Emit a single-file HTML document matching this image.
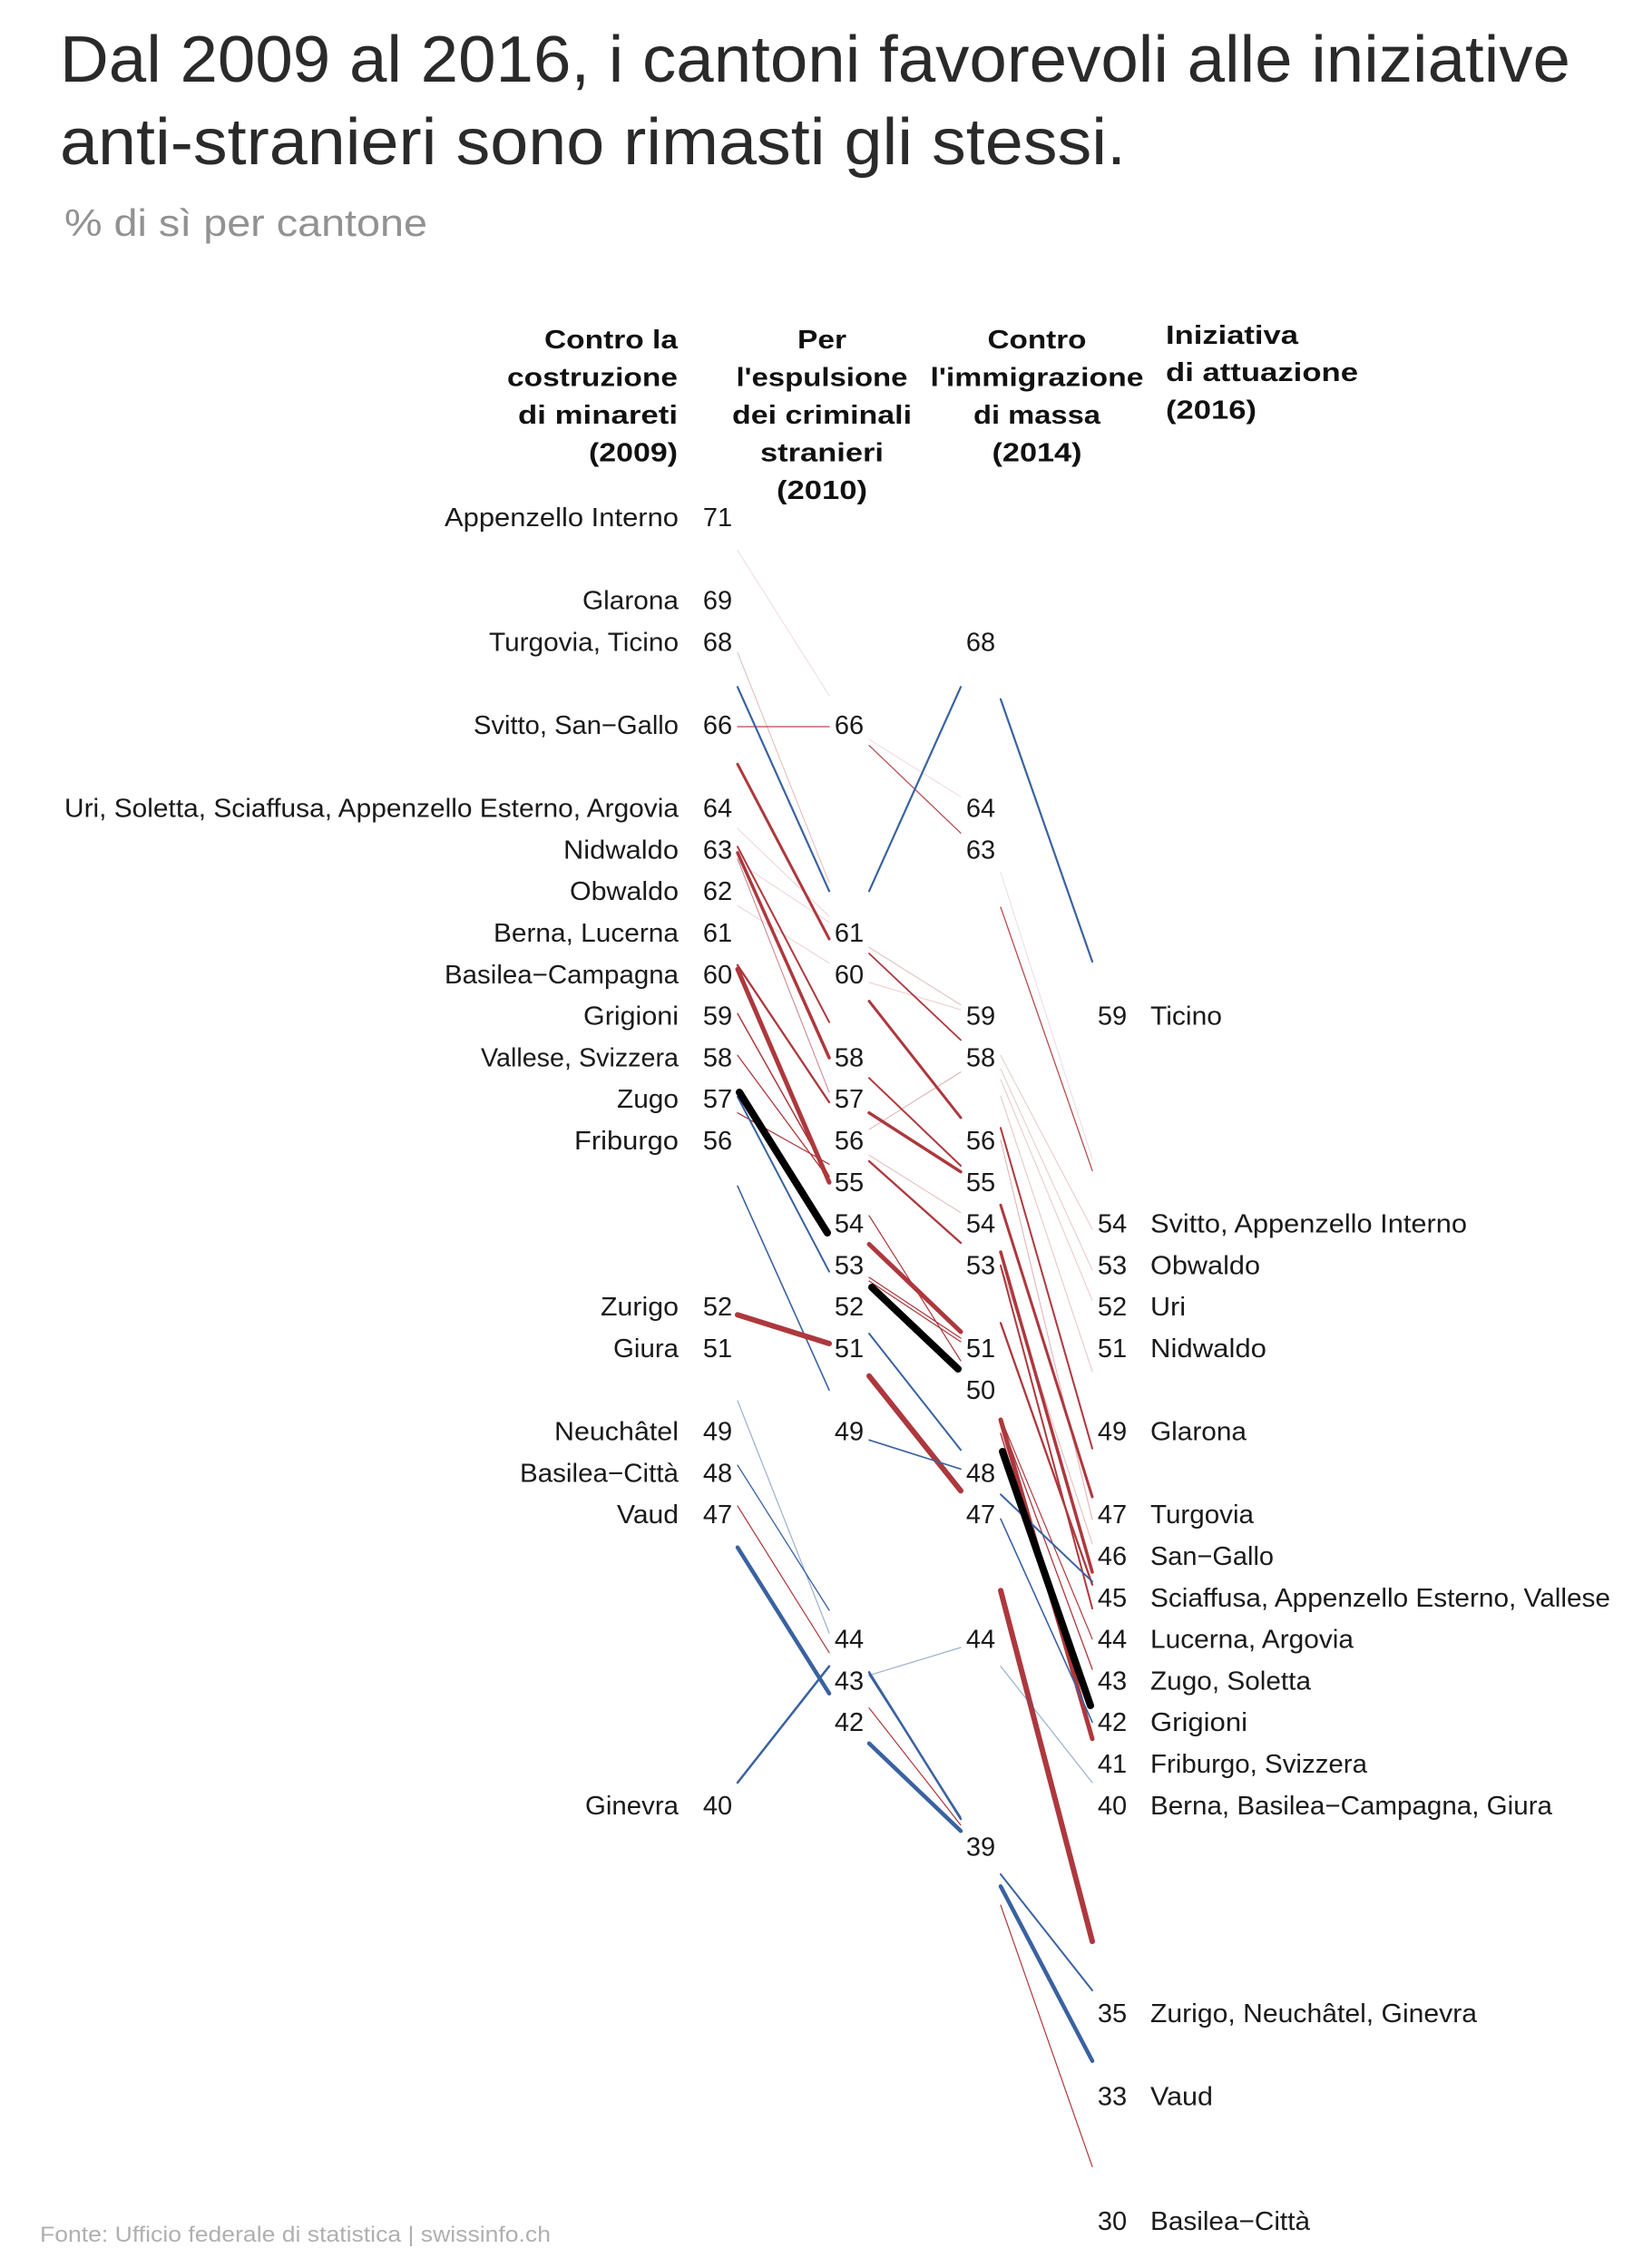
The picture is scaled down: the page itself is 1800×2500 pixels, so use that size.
<!DOCTYPE html>
<html>
<head>
<meta charset="utf-8">
<style>
html,body{margin:0;padding:0;background:#fff;}
svg{display:block;}
text{font-family:"Liberation Sans","DejaVu Sans",sans-serif;}
</style>
</head>
<body>
<svg xmlns="http://www.w3.org/2000/svg" width="1800" height="2500" viewBox="0 0 1800 2500">
<rect width="1800" height="2500" fill="#ffffff"/>

<!-- Title -->
<text x="66" y="90" font-size="72" fill="#2a2a2a" textLength="1665" lengthAdjust="spacingAndGlyphs">Dal 2009 al 2016, i cantoni favorevoli alle iniziative</text>
<text x="66" y="181" font-size="72" fill="#2a2a2a" textLength="1175" lengthAdjust="spacingAndGlyphs">anti-stranieri sono rimasti gli stessi.</text>
<text x="71" y="260" font-size="42" fill="#929292" textLength="400" lengthAdjust="spacingAndGlyphs">% di sì per cantone</text>

<!-- Column headers -->
<g font-size="29" font-weight="bold" fill="#111" transform="translate(0,-3)">
  <text x="747" y="387" text-anchor="end" textLength="147" lengthAdjust="spacingAndGlyphs">Contro la</text>
  <text x="747" y="428.5" text-anchor="end" textLength="188" lengthAdjust="spacingAndGlyphs">costruzione</text>
  <text x="747" y="470" text-anchor="end" textLength="176" lengthAdjust="spacingAndGlyphs">di minareti</text>
  <text x="747" y="511.5" text-anchor="end" textLength="98" lengthAdjust="spacingAndGlyphs">(2009)</text>

  <text x="906" y="387" text-anchor="middle" textLength="54" lengthAdjust="spacingAndGlyphs">Per</text>
  <text x="906" y="428.5" text-anchor="middle" textLength="189" lengthAdjust="spacingAndGlyphs">l'espulsione</text>
  <text x="906" y="470" text-anchor="middle" textLength="198" lengthAdjust="spacingAndGlyphs">dei criminali</text>
  <text x="906" y="511.5" text-anchor="middle" textLength="136" lengthAdjust="spacingAndGlyphs">stranieri</text>
  <text x="906" y="553" text-anchor="middle" textLength="100" lengthAdjust="spacingAndGlyphs">(2010)</text>

  <text x="1143" y="387" text-anchor="middle" textLength="109" lengthAdjust="spacingAndGlyphs">Contro</text>
  <text x="1143" y="428.5" text-anchor="middle" textLength="235" lengthAdjust="spacingAndGlyphs">l'immigrazione</text>
  <text x="1143" y="470" text-anchor="middle" textLength="140" lengthAdjust="spacingAndGlyphs">di massa</text>
  <text x="1143" y="511.5" text-anchor="middle" textLength="99" lengthAdjust="spacingAndGlyphs">(2014)</text>

  <text x="1285" y="382" textLength="146" lengthAdjust="spacingAndGlyphs">Iniziativa</text>
  <text x="1285" y="423" textLength="212" lengthAdjust="spacingAndGlyphs">di attuazione</text>
  <text x="1285" y="464.5" textLength="100" lengthAdjust="spacingAndGlyphs">(2016)</text>
</g>

<!-- Lines -->
<g stroke-linecap="round" fill="none">
  <!-- Segment 1: 2009 -> 2010 -->
  <line x1="813" y1="606.7" x2="914" y2="766.7" stroke="#ad383d" stroke-opacity="0.18" stroke-width="1"/>
  <line x1="813" y1="719.3" x2="914" y2="973" stroke="#ad383d" stroke-opacity="0.35" stroke-width="1"/>
  <line x1="813" y1="913.3" x2="914" y2="1010" stroke="#ad383d" stroke-opacity="0.22" stroke-width="1"/>
  <line x1="813" y1="950" x2="914" y2="1016.7" stroke="#ad383d" stroke-opacity="0.22" stroke-width="1"/>
  <line x1="813" y1="998.3" x2="914" y2="1061.7" stroke="#ad383d" stroke-opacity="0.22" stroke-width="1"/>
  <line x1="813" y1="946.7" x2="914" y2="1204" stroke="#ad383d" stroke-opacity="0.65" stroke-width="1"/>
  <line x1="813" y1="801" x2="914" y2="801" stroke="#ad383d" stroke-opacity="0.9" stroke-width="1.3"/>
  <line x1="813" y1="757.3" x2="914" y2="982.3" stroke="#3a62a0" stroke-width="2.2"/>
  <line x1="813" y1="842.3" x2="914" y2="1035" stroke="#ad383d" stroke-width="3"/>
  <line x1="813" y1="933.3" x2="914" y2="1126.7" stroke="#ad383d" stroke-width="2"/>
  <line x1="813" y1="940" x2="914" y2="1166" stroke="#ad383d" stroke-width="3.5"/>
  <line x1="813" y1="1064" x2="914" y2="1215" stroke="#ad383d" stroke-width="2.3"/>
  <line x1="813" y1="1068.3" x2="914" y2="1303.3" stroke="#ad383d" stroke-width="5"/>
  <line x1="813" y1="1117.3" x2="914" y2="1296.7" stroke="#ad383d" stroke-width="1.5"/>
  <line x1="813" y1="1163.3" x2="914" y2="1300" stroke="#ad383d" stroke-width="1.3"/>
  <line x1="813" y1="1226.7" x2="914" y2="1283.3" stroke="#ad383d" stroke-width="1.2"/>
  <line x1="813" y1="1209" x2="914" y2="1401.7" stroke="#3a62a0" stroke-width="2"/>
  <line x1="813" y1="1307.3" x2="914" y2="1532.3" stroke="#3a62a0" stroke-width="1.6"/>
  <line x1="813" y1="1449.3" x2="914" y2="1481" stroke="#ad383d" stroke-width="6"/>
  <line x1="813" y1="1544" x2="914" y2="1800" stroke="#3a62a0" stroke-opacity="0.5" stroke-width="1.2"/>
  <line x1="813" y1="1615" x2="914" y2="1775" stroke="#3a62a0" stroke-width="1.3"/>
  <line x1="813" y1="1660" x2="914" y2="1821.7" stroke="#ad383d" stroke-width="1.2"/>
  <line x1="813" y1="1705.7" x2="914" y2="1866.7" stroke="#3a62a0" stroke-width="4.5"/>
  <line x1="813" y1="1965" x2="914" y2="1836.7" stroke="#3a62a0" stroke-width="2.5"/>
  <line x1="815" y1="1204" x2="912" y2="1359" stroke="#000" stroke-width="8"/>

  <!-- Segment 2: 2010 -> 2014 -->
  <line x1="958" y1="815" x2="1059" y2="878.3" stroke="#ad383d" stroke-opacity="0.18" stroke-width="1"/>
  <line x1="958" y1="1044.3" x2="1059" y2="1107.7" stroke="#ad383d" stroke-opacity="0.35" stroke-width="1"/>
  <line x1="958" y1="1082.9" x2="1059" y2="1113" stroke="#ad383d" stroke-opacity="0.25" stroke-width="1"/>
  <line x1="958" y1="1245" x2="1059" y2="1181.7" stroke="#ad383d" stroke-opacity="0.4" stroke-width="1"/>
  <line x1="958" y1="1273.3" x2="1059" y2="1336.7" stroke="#ad383d" stroke-opacity="0.35" stroke-width="1"/>
  <line x1="958" y1="821.7" x2="1059" y2="918.3" stroke="#ad383d" stroke-opacity="0.9" stroke-width="1.3"/>
  <line x1="958" y1="982.3" x2="1059" y2="757.3" stroke="#3a62a0" stroke-width="2.2"/>
  <line x1="958" y1="1051" x2="1059" y2="1146.4" stroke="#ad383d" stroke-width="1.8"/>
  <line x1="958" y1="1103.6" x2="1059" y2="1232" stroke="#ad383d" stroke-width="3"/>
  <line x1="958" y1="1188.3" x2="1059" y2="1285" stroke="#ad383d" stroke-width="2"/>
  <line x1="958" y1="1226.7" x2="1059" y2="1291.7" stroke="#ad383d" stroke-width="3.5"/>
  <line x1="958" y1="1280" x2="1059" y2="1370" stroke="#ad383d" stroke-width="2.3"/>
  <line x1="958" y1="1340" x2="1059" y2="1500" stroke="#ad383d" stroke-width="1.2"/>
  <line x1="958" y1="1371.5" x2="1059" y2="1468" stroke="#ad383d" stroke-width="5"/>
  <line x1="958" y1="1408" x2="1059" y2="1475" stroke="#ad383d" stroke-width="1.3"/>
  <line x1="958" y1="1412" x2="1059" y2="1479" stroke="#ad383d" stroke-width="1.3"/>
  <line x1="958" y1="1470" x2="1059" y2="1598.3" stroke="#3a62a0" stroke-width="2"/>
  <line x1="958" y1="1516.7" x2="1059" y2="1643.3" stroke="#ad383d" stroke-width="6"/>
  <line x1="958" y1="1587.3" x2="1059" y2="1619.3" stroke="#3a62a0" stroke-width="1.6"/>
  <line x1="958" y1="1846.7" x2="1059" y2="1816" stroke="#3a62a0" stroke-opacity="0.5" stroke-width="1.2"/>
  <line x1="958" y1="1846" x2="1059" y2="2003" stroke="#3a62a0" stroke-width="1.3"/>
  <line x1="958" y1="1843.3" x2="1059" y2="2005" stroke="#3a62a0" stroke-width="2.5"/>
  <line x1="958" y1="1882.7" x2="1059" y2="2011.7" stroke="#ad383d" stroke-width="1.2"/>
  <line x1="958" y1="1921.7" x2="1059" y2="2018.3" stroke="#3a62a0" stroke-width="4.5"/>
  <line x1="961" y1="1419" x2="1056" y2="1509" stroke="#000" stroke-width="8"/>

  <!-- Segment 3: 2014 -> 2016 -->
  <line x1="1103" y1="961.7" x2="1204" y2="1277.7" stroke="#ad383d" stroke-opacity="0.18" stroke-width="1"/>
  <line x1="1103" y1="1163.3" x2="1204" y2="1355" stroke="#ad383d" stroke-opacity="0.28" stroke-width="1"/>
  <line x1="1103" y1="1178.3" x2="1204" y2="1400" stroke="#ad383d" stroke-opacity="0.28" stroke-width="1"/>
  <line x1="1103" y1="1190" x2="1204" y2="1433.3" stroke="#ad383d" stroke-opacity="0.28" stroke-width="1"/>
  <line x1="1103" y1="1208.3" x2="1204" y2="1511.7" stroke="#ad383d" stroke-opacity="0.3" stroke-width="1"/>
  <line x1="1103" y1="1256.7" x2="1204" y2="1675" stroke="#ad383d" stroke-opacity="0.4" stroke-width="1"/>
  <line x1="1103" y1="1393.7" x2="1204" y2="1701.7" stroke="#ad383d" stroke-opacity="0.35" stroke-width="1"/>
  <line x1="1103" y1="770.7" x2="1204" y2="1060" stroke="#3a62a0" stroke-width="2.2"/>
  <line x1="1103" y1="1000" x2="1204" y2="1290.3" stroke="#ad383d" stroke-opacity="0.9" stroke-width="1.3"/>
  <line x1="1103" y1="1243.3" x2="1204" y2="1596.7" stroke="#ad383d" stroke-width="2"/>
  <line x1="1103" y1="1328.3" x2="1204" y2="1650" stroke="#ad383d" stroke-width="3"/>
  <line x1="1103" y1="1380" x2="1204" y2="1733" stroke="#ad383d" stroke-width="3.5"/>
  <line x1="1103" y1="1395" x2="1204" y2="1773" stroke="#ad383d" stroke-width="2"/>
  <line x1="1103" y1="1458.3" x2="1204" y2="1746.7" stroke="#ad383d" stroke-width="2.3"/>
  <line x1="1103" y1="1563" x2="1204" y2="1806.7" stroke="#ad383d" stroke-width="1.2"/>
  <line x1="1103" y1="1566" x2="1204" y2="1840" stroke="#ad383d" stroke-width="1.3"/>
  <line x1="1103" y1="1580" x2="1204" y2="1918" stroke="#ad383d" stroke-width="1.5"/>
  <line x1="1103" y1="1565" x2="1204" y2="1916.7" stroke="#ad383d" stroke-width="5"/>
  <line x1="1103" y1="1647.3" x2="1204" y2="1743.3" stroke="#3a62a0" stroke-width="2"/>
  <line x1="1103" y1="1674.3" x2="1204" y2="1898.3" stroke="#3a62a0" stroke-width="1.6"/>
  <line x1="1103" y1="1753.3" x2="1204" y2="2140" stroke="#ad383d" stroke-width="6"/>
  <line x1="1103" y1="1836.7" x2="1204" y2="1965" stroke="#3a62a0" stroke-opacity="0.5" stroke-width="1.2"/>
  <line x1="1103" y1="2066" x2="1204" y2="2194" stroke="#3a62a0" stroke-width="2"/>
  <line x1="1103" y1="2079.3" x2="1204" y2="2271.7" stroke="#3a62a0" stroke-width="4.5"/>
  <line x1="1103" y1="2100" x2="1204" y2="2388.3" stroke="#ad383d" stroke-width="1.2"/>
  <line x1="1105" y1="1600" x2="1202" y2="1880" stroke="#000" stroke-width="8"/>
</g>

<!-- Left labels (2009) -->
<g font-size="29" fill="#1a1a1a" text-anchor="end" transform="translate(0,-2.5)">
  <text x="748" y="582.5" textLength="258" lengthAdjust="spacingAndGlyphs">Appenzello Interno</text>
  <text x="748" y="674.1" textLength="106" lengthAdjust="spacingAndGlyphs">Glarona</text>
  <text x="748" y="719.9" textLength="209" lengthAdjust="spacingAndGlyphs">Turgovia, Ticino</text>
  <text x="748" y="811.5" textLength="226" lengthAdjust="spacingAndGlyphs">Svitto, San&#8722;Gallo</text>
  <text x="748" y="903.1" textLength="677" lengthAdjust="spacingAndGlyphs">Uri, Soletta, Sciaffusa, Appenzello Esterno, Argovia</text>
  <text x="748" y="948.9" textLength="127" lengthAdjust="spacingAndGlyphs">Nidwaldo</text>
  <text x="748" y="994.7" textLength="120" lengthAdjust="spacingAndGlyphs">Obwaldo</text>
  <text x="748" y="1040.5" textLength="204" lengthAdjust="spacingAndGlyphs">Berna, Lucerna</text>
  <text x="748" y="1086.3" textLength="258" lengthAdjust="spacingAndGlyphs">Basilea&#8722;Campagna</text>
  <text x="748" y="1132.1" textLength="105" lengthAdjust="spacingAndGlyphs">Grigioni</text>
  <text x="748" y="1177.9" textLength="218" lengthAdjust="spacingAndGlyphs">Vallese, Svizzera</text>
  <text x="748" y="1223.7" textLength="68" lengthAdjust="spacingAndGlyphs">Zugo</text>
  <text x="748" y="1269.5" textLength="115" lengthAdjust="spacingAndGlyphs">Friburgo</text>
  <text x="748" y="1452.7" textLength="86" lengthAdjust="spacingAndGlyphs">Zurigo</text>
  <text x="748" y="1498.5" textLength="72" lengthAdjust="spacingAndGlyphs">Giura</text>
  <text x="748" y="1590.1" textLength="137" lengthAdjust="spacingAndGlyphs">Neuchâtel</text>
  <text x="748" y="1635.9" textLength="175" lengthAdjust="spacingAndGlyphs">Basilea&#8722;Città</text>
  <text x="748" y="1681.7" textLength="68" lengthAdjust="spacingAndGlyphs">Vaud</text>
  <text x="748" y="2002.3" textLength="103" lengthAdjust="spacingAndGlyphs">Ginevra</text>
</g>

<!-- Numbers -->
<g font-size="29" fill="#1a1a1a" text-anchor="middle" transform="translate(0,-2.5)">
  <!-- col 1 -->
  <text x="791" y="582.5">71</text>
  <text x="791" y="674.1">69</text>
  <text x="791" y="719.9">68</text>
  <text x="791" y="811.5">66</text>
  <text x="791" y="903.1">64</text>
  <text x="791" y="948.9">63</text>
  <text x="791" y="994.7">62</text>
  <text x="791" y="1040.5">61</text>
  <text x="791" y="1086.3">60</text>
  <text x="791" y="1132.1">59</text>
  <text x="791" y="1177.9">58</text>
  <text x="791" y="1223.7">57</text>
  <text x="791" y="1269.5">56</text>
  <text x="791" y="1452.7">52</text>
  <text x="791" y="1498.5">51</text>
  <text x="791" y="1590.1">49</text>
  <text x="791" y="1635.9">48</text>
  <text x="791" y="1681.7">47</text>
  <text x="791" y="2002.3">40</text>
  <!-- col 2 -->
  <text x="936" y="811.5">66</text>
  <text x="936" y="1040.5">61</text>
  <text x="936" y="1086.3">60</text>
  <text x="936" y="1177.9">58</text>
  <text x="936" y="1223.7">57</text>
  <text x="936" y="1269.5">56</text>
  <text x="936" y="1315.3">55</text>
  <text x="936" y="1361.1">54</text>
  <text x="936" y="1406.9">53</text>
  <text x="936" y="1452.7">52</text>
  <text x="936" y="1498.5">51</text>
  <text x="936" y="1590.1">49</text>
  <text x="936" y="1819.1">44</text>
  <text x="936" y="1864.9">43</text>
  <text x="936" y="1910.7">42</text>
  <!-- col 3 -->
  <text x="1081" y="719.9">68</text>
  <text x="1081" y="903.1">64</text>
  <text x="1081" y="948.9">63</text>
  <text x="1081" y="1132.1">59</text>
  <text x="1081" y="1177.9">58</text>
  <text x="1081" y="1269.5">56</text>
  <text x="1081" y="1315.3">55</text>
  <text x="1081" y="1361.1">54</text>
  <text x="1081" y="1406.9">53</text>
  <text x="1081" y="1498.5">51</text>
  <text x="1081" y="1544.3">50</text>
  <text x="1081" y="1635.9">48</text>
  <text x="1081" y="1681.7">47</text>
  <text x="1081" y="1819.1">44</text>
  <text x="1081" y="2048.1">39</text>
  <!-- col 4 -->
  <text x="1226" y="1132.1">59</text>
  <text x="1226" y="1361.1">54</text>
  <text x="1226" y="1406.9">53</text>
  <text x="1226" y="1452.7">52</text>
  <text x="1226" y="1498.5">51</text>
  <text x="1226" y="1590.1">49</text>
  <text x="1226" y="1681.7">47</text>
  <text x="1226" y="1727.5">46</text>
  <text x="1226" y="1773.3">45</text>
  <text x="1226" y="1819.1">44</text>
  <text x="1226" y="1864.9">43</text>
  <text x="1226" y="1910.7">42</text>
  <text x="1226" y="1956.5">41</text>
  <text x="1226" y="2002.3">40</text>
  <text x="1226" y="2231.3">35</text>
  <text x="1226" y="2322.9">33</text>
  <text x="1226" y="2460.3">30</text>
</g>

<!-- Right labels (2016) -->
<g font-size="29" fill="#1a1a1a" transform="translate(0,-2.5)">
  <text x="1268" y="1132.1" textLength="79" lengthAdjust="spacingAndGlyphs">Ticino</text>
  <text x="1268" y="1361.1" textLength="349" lengthAdjust="spacingAndGlyphs">Svitto, Appenzello Interno</text>
  <text x="1268" y="1406.9" textLength="121" lengthAdjust="spacingAndGlyphs">Obwaldo</text>
  <text x="1268" y="1452.7" textLength="39" lengthAdjust="spacingAndGlyphs">Uri</text>
  <text x="1268" y="1498.5" textLength="128" lengthAdjust="spacingAndGlyphs">Nidwaldo</text>
  <text x="1268" y="1590.1" textLength="106" lengthAdjust="spacingAndGlyphs">Glarona</text>
  <text x="1268" y="1681.7" textLength="114" lengthAdjust="spacingAndGlyphs">Turgovia</text>
  <text x="1268" y="1727.5" textLength="136" lengthAdjust="spacingAndGlyphs">San&#8722;Gallo</text>
  <text x="1268" y="1773.3" textLength="507" lengthAdjust="spacingAndGlyphs">Sciaffusa, Appenzello Esterno, Vallese</text>
  <text x="1268" y="1819.1" textLength="224" lengthAdjust="spacingAndGlyphs">Lucerna, Argovia</text>
  <text x="1268" y="1864.9" textLength="177" lengthAdjust="spacingAndGlyphs">Zugo, Soletta</text>
  <text x="1268" y="1910.7" textLength="107" lengthAdjust="spacingAndGlyphs">Grigioni</text>
  <text x="1268" y="1956.5" textLength="239" lengthAdjust="spacingAndGlyphs">Friburgo, Svizzera</text>
  <text x="1268" y="2002.3" textLength="443" lengthAdjust="spacingAndGlyphs">Berna, Basilea&#8722;Campagna, Giura</text>
  <text x="1268" y="2231.3" textLength="360" lengthAdjust="spacingAndGlyphs">Zurigo, Neuchâtel, Ginevra</text>
  <text x="1268" y="2322.9" textLength="69" lengthAdjust="spacingAndGlyphs">Vaud</text>
  <text x="1268" y="2460.3" textLength="176" lengthAdjust="spacingAndGlyphs">Basilea&#8722;Città</text>
</g>

<!-- Footer -->
<text x="44" y="2471" font-size="24" fill="#b0b0b0" textLength="563" lengthAdjust="spacingAndGlyphs">Fonte: Ufficio federale di statistica | swissinfo.ch</text>
</svg>
</body>
</html>
